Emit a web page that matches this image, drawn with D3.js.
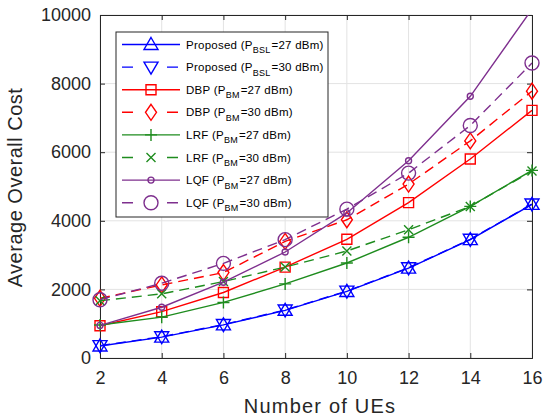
<!DOCTYPE html>
<html>
<head>
<meta charset="utf-8">
<script src="https://cdn.jsdelivr.net/npm/d3@7"></script>
<style>
  body { margin: 0; background: #fff; }
  text { font-family: "Liberation Sans", Arial, sans-serif; }
</style>
</head>
<body>
<div id="chart"></div>
<script>
// data
var ues = [2, 4, 6, 8, 10, 12, 14, 16];
var proposed27 = [350, 610, 965, 1390, 1940, 2620, 3450, 4480];
var proposed30 = [360, 620, 975, 1400, 1950, 2630, 3460, 4490];
var dbp27 = [940, 1350, 1910, 2650, 3460, 4530, 5800, 7220];
var dbp30 = [1740, 2130, 2490, 3400, 4030, 5070, 6330, 7780];
var lrf27 = [960, 1190, 1620, 2160, 2770, 3520, 4420, 5470];
var lrf30 = [1670, 1870, 2230, 2650, 3120, 3740, 4420, 5450];
var lqf27 = [950, 1480, 2210, 3090, 4230, 5750, 7630, 10170];
var lqf30 = [1700, 2180, 2760, 3450, 4340, 5390, 6780, 8600];
var xTicks = [2, 4, 6, 8, 10, 12, 14, 16];
var yTicks = [0, 2000, 4000, 6000, 8000, 10000];

var series = [
  {name: "Proposed (P", sub: "BSL", tail: "=27 dBm)", values: proposed27, color: "#0000ff", dash: null, marker: "triUp"},
  {name: "Proposed (P", sub: "BSL", tail: "=30 dBm)", values: proposed30, color: "#0000ff", dash: "10,6", marker: "triDown"},
  {name: "DBP (P", sub: "BM", tail: "=27 dBm)", values: dbp27, color: "#ff0000", dash: null, marker: "square"},
  {name: "DBP (P", sub: "BM", tail: "=30 dBm)", values: dbp30, color: "#ff0000", dash: "10,6", marker: "diamond"},
  {name: "LRF (P", sub: "BM", tail: "=27 dBm)", values: lrf27, color: "#1e8c1e", dash: null, marker: "plus"},
  {name: "LRF (P", sub: "BM", tail: "=30 dBm)", values: lrf30, color: "#1e8c1e", dash: "10,6", marker: "cross"},
  {name: "LQF (P", sub: "BM", tail: "=27 dBm)", values: lqf27, color: "#7e2f8e", dash: null, marker: "dot"},
  {name: "LQF (P", sub: "BM", tail: "=30 dBm)", values: lqf30, color: "#7e2f8e", dash: "10,6", marker: "circle"}
];

var margin = {top: 15, right: 14, bottom: 59, left: 100},
    width = 546 - margin.left - margin.right,
    height = 417 - margin.top - margin.bottom;

var svg = d3.select("#chart")
  .append("svg")
    .attr("width", 546)
    .attr("height", 417)
  .append("g")
    .attr("transform", "translate(" + margin.left + "," + margin.top + ")");

var x = d3.scaleLinear().domain([2, 16]).range([0, width]);
var y = d3.scaleLinear().domain([0, 10000]).range([height, 0]);

// grid
svg.append("g").selectAll("line").data(xTicks).enter().append("line")
  .attr("x1", function(d) { return x(d); }).attr("x2", function(d) { return x(d); })
  .attr("y1", 0).attr("y2", height)
  .attr("stroke", "#e3e3e3").attr("stroke-width", 1);
svg.append("g").selectAll("line").data(yTicks).enter().append("line")
  .attr("y1", function(d) { return y(d); }).attr("y2", function(d) { return y(d); })
  .attr("x1", 0).attr("x2", width)
  .attr("stroke", "#e3e3e3").attr("stroke-width", 1);

// axes
var axisColor = "#262626";
var xAxis = svg.append("g")
  .attr("transform", "translate(0," + height + ")")
  .call(d3.axisBottom(x).tickValues(xTicks).tickSize(-5).tickPadding(13).tickFormat(d3.format("d")));
var xTop = svg.append("g")
  .call(d3.axisTop(x).tickValues(xTicks).tickSize(-5).tickFormat(""));
var yAxis = svg.append("g")
  .call(d3.axisLeft(y).tickValues(yTicks).tickSize(-5).tickPadding(9).tickFormat(d3.format("d")));
var yRight = svg.append("g")
  .attr("transform", "translate(" + width + ",0)")
  .call(d3.axisRight(y).tickValues(yTicks).tickSize(-5).tickFormat(""));

[xAxis, xTop, yAxis, yRight].forEach(function(a) {
  a.select(".domain").attr("stroke", axisColor).attr("stroke-width", 1);
  a.selectAll(".tick line").attr("stroke", axisColor);
  a.selectAll("text").attr("fill", axisColor).style("font-size", "18px")
    .style("font-family", "'Liberation Sans', Arial, sans-serif");
});

// axis labels
svg.append("text")
  .attr("x", width / 2 + 4).attr("y", height + 55)
  .style("text-anchor", "middle").style("font-size", "20px")
  .style("letter-spacing", "1.2px").attr("fill", axisColor)
  .text("Number of UEs");
svg.append("text")
  .attr("transform", "rotate(-90)")
  .attr("x", -height / 2 - 1).attr("y", -margin.left + 22)
  .style("text-anchor", "middle").style("font-size", "20px")
  .style("letter-spacing", "0.5px").attr("fill", axisColor)
  .text("Average Overall Cost");

// markers
function drawMarker(g, type, cx, cy, color) {
  var p;
  if (type == "triUp") {
    p = "M" + cx + "," + (cy - 7) + "L" + (cx + 7) + "," + (cy + 5) + "L" + (cx - 7) + "," + (cy + 5) + "Z";
  } else if (type == "triDown") {
    p = "M" + cx + "," + (cy + 7) + "L" + (cx + 7) + "," + (cy - 5) + "L" + (cx - 7) + "," + (cy - 5) + "Z";
  } else if (type == "square") {
    p = "M" + (cx - 5) + "," + (cy - 5) + "h10v10h-10Z";
  } else if (type == "diamond") {
    p = "M" + cx + "," + (cy - 8) + "L" + (cx + 5.5) + "," + cy + "L" + cx + "," + (cy + 8) + "L" + (cx - 5.5) + "," + cy + "Z";
  } else if (type == "plus") {
    p = "M" + (cx - 6) + "," + cy + "h12M" + cx + "," + (cy - 6) + "v12";
  } else if (type == "cross") {
    p = "M" + (cx - 4.5) + "," + (cy - 4.5) + "l9,9M" + (cx + 4.5) + "," + (cy - 4.5) + "l-9,9";
  }
  if (p) {
    g.append("path").attr("d", p).attr("fill", "none").attr("stroke", color).attr("stroke-width", 1.4);
  } else {
    g.append("circle").attr("cx", cx).attr("cy", cy)
      .attr("r", type == "dot" ? 3 : 7)
      .attr("fill", "none").attr("stroke", color).attr("stroke-width", 1.4);
  }
}

svg.append("clipPath").attr("id", "clip")
  .append("rect").attr("width", width).attr("height", height);

var lineGen = d3.line()
  .x(function(d) { return x(d[0]); })
  .y(function(d) { return y(d[1]); });

series.forEach(function(s) {
  var pts = ues.map(function(u, i) { return [u, s.values[i]]; });
  svg.append("path")
    .datum(pts)
    .attr("clip-path", "url(#clip)")
    .attr("d", lineGen)
    .attr("fill", "none")
    .attr("stroke", s.color)
    .attr("stroke-width", 1.4)
    .attr("stroke-dasharray", s.dash);
  var mg = svg.append("g");
  pts.forEach(function(p) {
    if (p[1] <= 10000) drawMarker(mg, s.marker, x(p[0]), y(p[1]), s.color);
  });
});

// legend
var leg = svg.append("g").attr("transform", "translate(16,17)");
leg.append("rect")
  .attr("width", 212).attr("height", 185)
  .attr("fill", "#fff").attr("stroke", axisColor).attr("stroke-width", 1);

series.forEach(function(s, i) {
  var yy = 12.5 + i * 22.6;
  var row = leg.append("g");
  row.append("line")
    .attr("x1", 6).attr("x2", 64).attr("y1", yy).attr("y2", yy)
    .attr("stroke", s.color).attr("stroke-width", 1.4)
    .attr("stroke-dasharray", s.dash ? "11,34" : null);
  drawMarker(row, s.marker, 35, yy, s.color);
  var t = row.append("text")
    .attr("x", 70).attr("y", yy + 4)
    .style("font-size", "11.5px").style("letter-spacing", "0.25px").attr("fill", "#000");
  t.append("tspan").text(s.name);
  t.append("tspan").attr("dy", 4.5).style("font-size", "9px").text(s.sub);
  t.append("tspan").attr("dy", -4.5).attr("dx", 1).text(s.tail);
});
</script>
</body>
</html>
